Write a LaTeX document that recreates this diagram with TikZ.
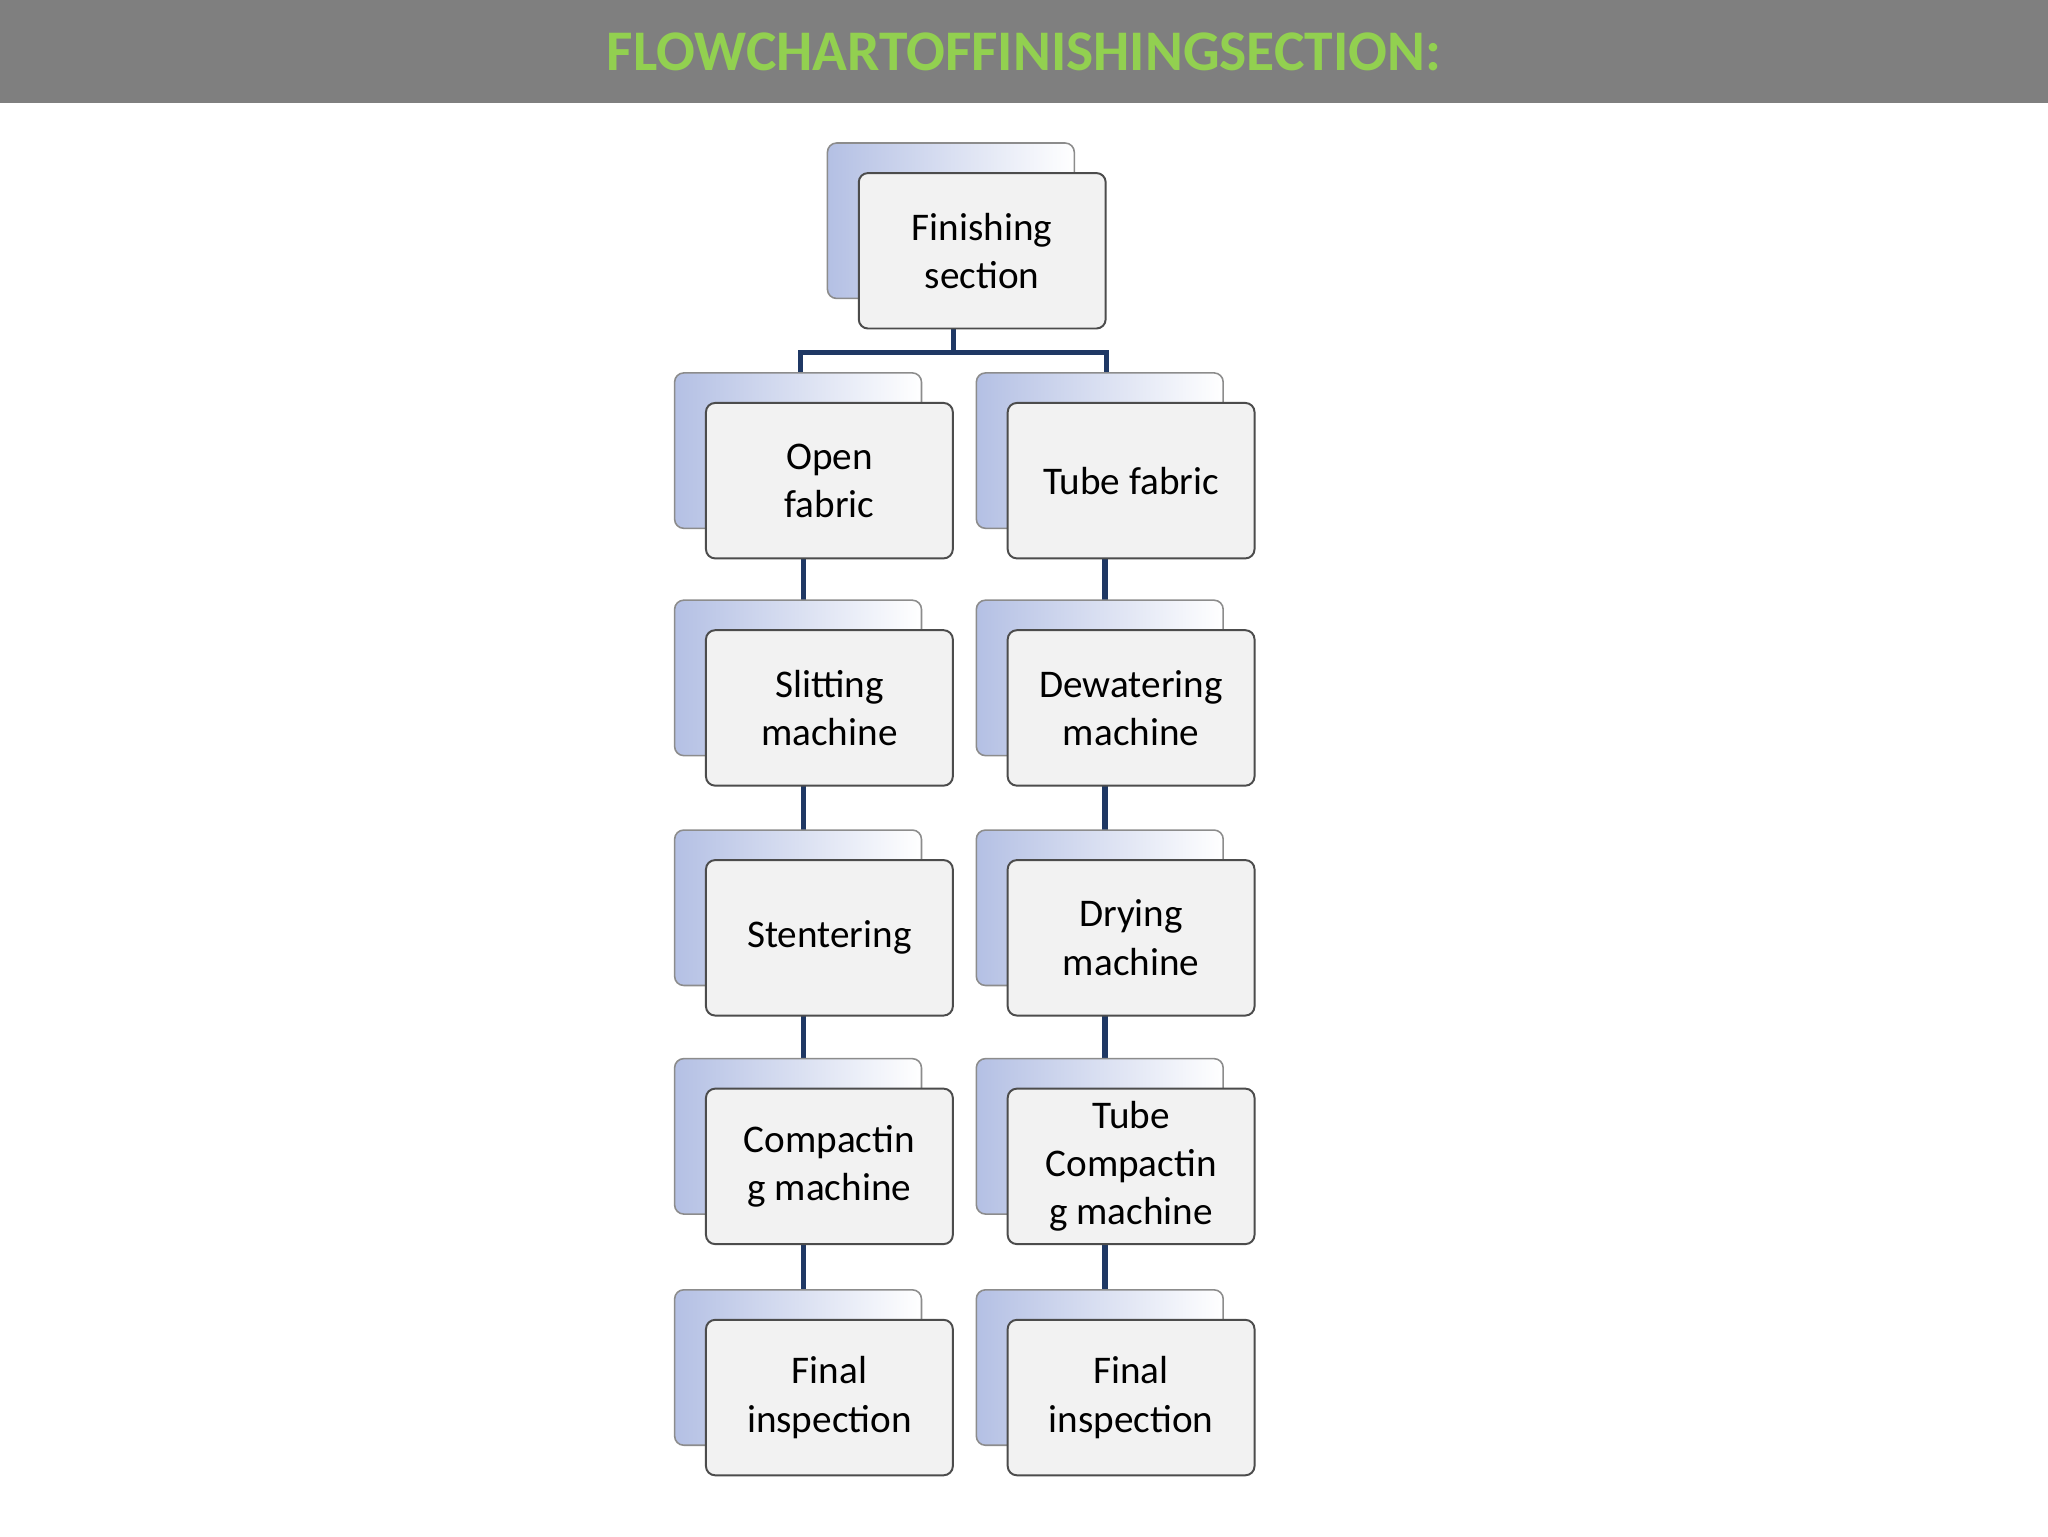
\documentclass[tikz,border=0pt]{standalone}
\usepackage{fontspec}
\setmainfont{Carlito}
\definecolor{hdr}{HTML}{7F7F7F}
\definecolor{ttl}{HTML}{92D050}
\definecolor{navy}{HTML}{1F3864}
\definecolor{bblue}{HTML}{B4C0E4}
\tikzset{x=1pt,y=-1pt,
 backbox/.style={draw=black!45,line width=1.2pt,rounded corners=7pt,left color=bblue,right color=white},
 frontbox/.style={draw=black!70,line width=1.5pt,rounded corners=7pt,fill=black!5,minimum width=189pt,minimum height=119pt,align=center,font=\fontsize{30}{37}\selectfont,inner sep=2pt},
 conn/.style={draw=navy,line width=4pt}}
\newcommand{\stepnode}[4]{%
 \draw[backbox] (#2-94.5-24,#3-59.5-23) rectangle (#2+94.5-24,#3+59.5-23);
 \node[frontbox] (#1) at (#2,#3) {#4};}
\begin{document}
\begin{tikzpicture}
\useasboundingbox (0,0) rectangle (1568,1176);
\fill[white] (0,0) rectangle (1568,1176);
\fill[hdr] (0,0) rectangle (1568,79);
\node[font=\fontsize{44}{50}\selectfont\bfseries,text=ttl] (title) at (784,40) {FLOWCHARTOFFINISHINGSECTION:};
\coordinate (hl) at (613,270); \coordinate (hr) at (847,270); \coordinate (hm) at (730,270);
\draw[conn] (730,251) -- (hm);
\draw[conn] (613,287) -- (hl) -- (hr) -- (847,287);
\foreach \y in {427,602,778,953}{\draw[conn] (615,\y) -- (615,\y+40); \draw[conn] (846,\y) -- (846,\y+40);}
\stepnode{fin}{752}{192}{Finishing\\section}
\stepnode{l1}{635}{368}{Open\\fabric}
\stepnode{l2}{635}{542}{Slitting\\machine}
\stepnode{l3}{635}{718}{Stentering}
\stepnode{l4}{635}{893}{Compactin\\g machine}
\stepnode{l5}{635}{1070}{Final\\inspection}
\stepnode{r1}{866}{368}{Tube fabric}
\stepnode{r2}{866}{542}{Dewatering\\machine}
\stepnode{r3}{866}{718}{Drying\\machine}
\stepnode{r4}{866}{893}{Tube\\Compactin\\g machine}
\stepnode{r5}{866}{1070}{Final\\inspection}
\end{tikzpicture}
\end{document}
